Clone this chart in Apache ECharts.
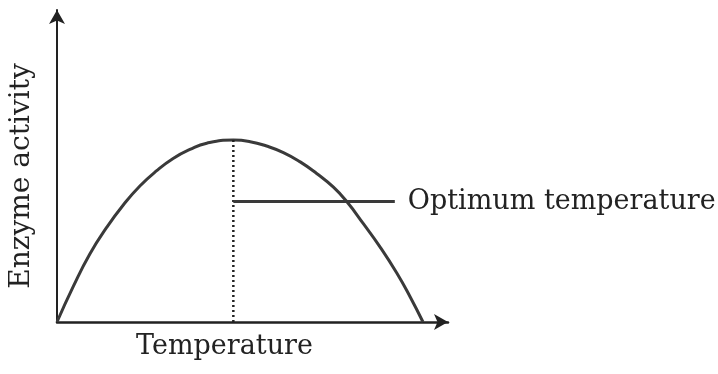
<!DOCTYPE html>
<html lang="en">
<head>
<meta charset="UTF-8">
<title>Enzyme activity</title>
<script src="https://cdn.jsdelivr.net/npm/echarts@6/dist/echarts.min.js"></script>
<style>
  html, body { margin: 0; padding: 0; background: #fff; }
  #main { width: 718px; height: 374px; }
</style>
</head>
<body>
<div id="main"></div>
<script>
// temperature (arbitrary units, 0-100) and activity
var temps = [0, 4.2, 8.4, 12.7, 17.0, 21.2, 25.5, 29.7, 34.0, 38.3, 45.1, 49.4, 53.6, 57.9, 62.1, 66.4, 70.7, 74.1, 78.3, 82.6, 86.9, 90.3, 93.6];
var activity = [0, 11.5, 21.8, 30.3, 37.6, 43.6, 48.5, 52.4, 55.3, 57.3, 58.3, 57.8, 56.4, 54.3, 51.4, 47.6, 43.2, 38.6, 31.6, 24.1, 15.7, 8.1, 0];
var optTemp = 45.1;
var peak = 58.3;
var pointerY = 38.6;
var pointerEnd = 86.4;
var labelText = 'Optimum temperature';

var curve = temps.map(function (t, i) { return [t, activity[i]]; });

var font = 'DejaVu Serif';
var ink = '#222';

var myChart = echarts.init(document.getElementById('main'));
var option = {
  animation: false,
  grid: { left: 57, right: 270, top: 10, bottom: 52, outerBoundsMode: 'none' },
  xAxis: {
    type: 'value', min: 0, max: 100,
    name: 'Temperature', nameLocation: 'middle', nameGap: 11,
    nameTextStyle: { fontFamily: font, fontSize: 27, color: ink, padding: [0, 56, 0, 0] },
    axisLine: { show: true, symbol: ['none', 'arrow'], symbolSize: [12, 14],
      lineStyle: { color: ink, width: 2.5 } },
    axisTick: { show: false }, axisLabel: { show: false }, splitLine: { show: false }
  },
  yAxis: {
    type: 'value', min: 0, max: 100,
    name: 'Enzyme activity', nameLocation: 'middle', nameGap: 21, nameRotate: 90,
    nameTextStyle: { fontFamily: font, fontSize: 28, color: ink, padding: [0, 20, 0, 0] },
    axisLine: { show: true, symbol: ['none', 'arrow'], symbolSize: [12, 14],
      lineStyle: { color: ink, width: 2 } },
    axisTick: { show: false }, axisLabel: { show: false }, splitLine: { show: false }
  },
  series: [
    {
      type: 'line', data: curve, smooth: 0.5,
      showSymbol: false, lineStyle: { color: '#3a3a3a', width: 3 }
    },
    {
      type: 'line', data: [[optTemp, 0], [optTemp, peak]],
      showSymbol: false, lineStyle: { color: ink, width: 2.5, type: [2, 3] }
    },
    {
      type: 'line', data: [[optTemp, pointerY], [pointerEnd, pointerY]],
      showSymbol: false, lineStyle: { color: '#3a3a3a', width: 3 },
      endLabel: { show: true, formatter: labelText, distance: 13,
        fontFamily: font, fontSize: 27, color: ink }
    }
  ]
};
myChart.setOption(option);
</script>
</body>
</html>
